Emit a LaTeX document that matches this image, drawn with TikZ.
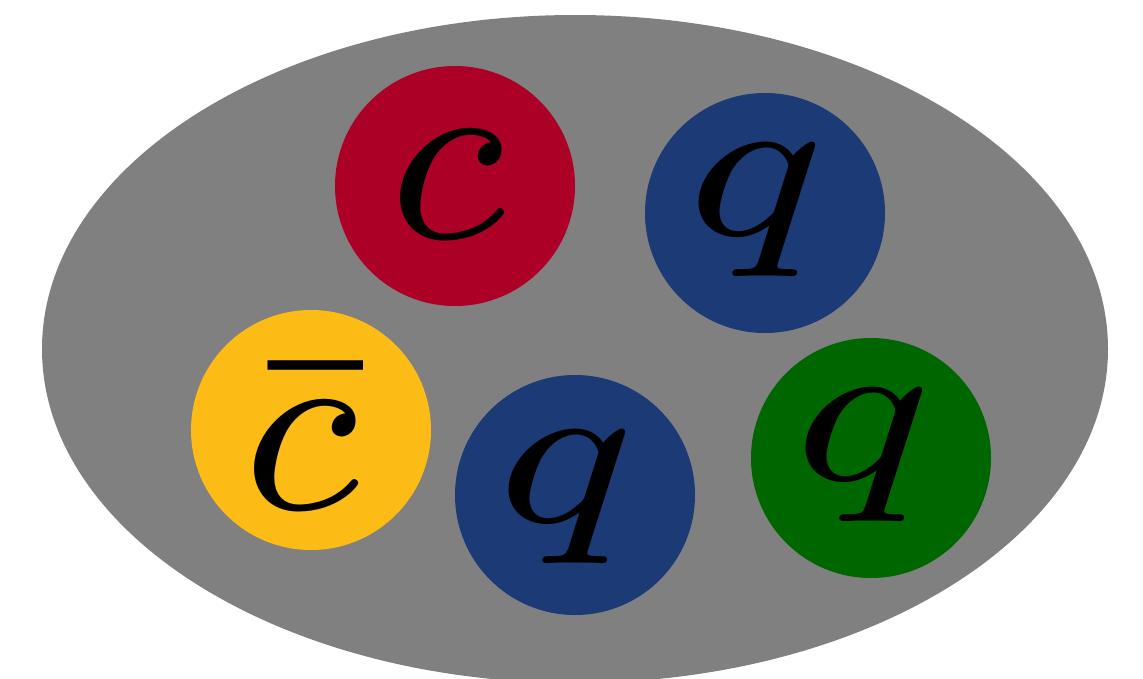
\documentclass[tikz,border=0pt]{standalone}
\usetikzlibrary{shapes.geometric}
\definecolor{qred}{RGB}{172,0,38}
\definecolor{qblue}{RGB}{28,58,117}
\definecolor{qyellow}{RGB}{253,187,22}
\definecolor{qgreen}{RGB}{0,102,0}
\definecolor{hgray}{RGB}{128,128,128}
\begin{document}
\begin{tikzpicture}[x=1pt,y=-1pt,
  quark/.style={circle,minimum size=240pt,inner sep=0pt,fill=#1},
  flavour/.style={scale=31.25,inner sep=0pt,font=\footnotesize},
  qletter/.style={xscale=33.5,yscale=26.5,inner sep=0pt,font=\footnotesize}]
\useasboundingbox (0,0) rectangle (1143,678);
\clip (0,0) rectangle (1143,678);
\node[ellipse,minimum width=1066pt,minimum height=668pt,inner sep=0pt,fill=hgray] (hadron) at (575,349) {};
\node[quark=qred] (c1) at (455,186) {};
\node[quark=qblue] (q1) at (765,213) {};
\node[quark=qyellow] (cb) at (311,430) {};
\node[quark=qblue] (q2) at (575,495) {};
\node[quark=qgreen] (q3) at (871,458) {};
\node[flavour] (tc1) at (447,185) {$c$};
\node[flavour] (tcb) at (301,438) {$\bar{c}$};
\node[qletter] (tq1) at (756,210) {$q$};
\node[qletter] (tq2) at (566,497.5) {$q$};
\node[qletter] (tq3) at (863,455.5) {$q$};
\end{tikzpicture}
\end{document}
